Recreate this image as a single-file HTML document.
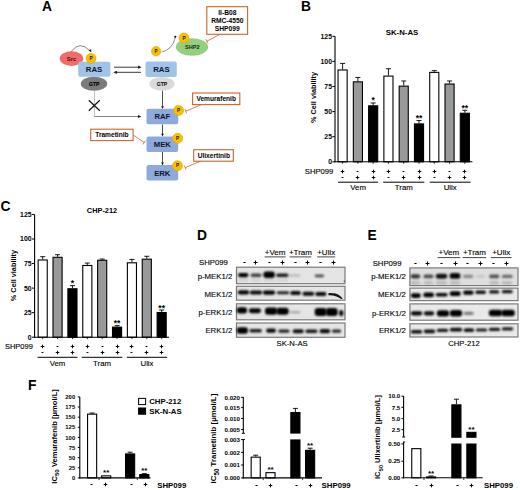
<!DOCTYPE html>
<html><head><meta charset="utf-8"><style>
html,body{margin:0;padding:0;background:#fff;width:520px;height:490px;overflow:hidden}
svg{display:block}
text{font-family:"Liberation Sans", sans-serif}
</style></head><body>
<svg width="520" height="490" viewBox="0 0 520 490" font-family='"Liberation Sans", sans-serif'>
<defs>
<filter id="bl" x="-50%" y="-150%" width="200%" height="400%"><feGaussianBlur stdDeviation="0.85"/></filter>
<filter id="bls" x="-100%" y="-100%" width="300%" height="300%"><feGaussianBlur stdDeviation="0.4"/></filter>
</defs>
<rect width="520" height="490" fill="#fff"/>
<text x="42.00" y="10.90" font-size="13.8" text-anchor="start" font-weight="bold" fill="#000" >A</text>
<ellipse cx="71.5" cy="58.6" rx="11.8" ry="7.3" fill="#ef6c6c"/>
<text x="71.50" y="60.90" font-size="5.8" text-anchor="middle" font-weight="bold" fill="#4a0808" >Src</text>
<path d="M71.2 51.5 Q80 40 90 51" fill="none" stroke="#333" stroke-width="0.6"/>
<path d="M88.6 50.2 L91.2 52.3 L91.2 49.3 Z" fill="#111"/>
<rect x="78.20" y="61.70" width="32.20" height="15.00" fill="#9fc4e8" stroke="none" stroke-width="1" rx="2" />
<text x="94.00" y="71.70" font-size="7.8" text-anchor="middle" font-weight="bold" fill="#0e1626" >RAS</text>
<circle cx="91.0" cy="58.4" r="5.0" fill="#f6c000" stroke="#eaa300" stroke-width="0.6"/>
<text x="91.00" y="60.10" font-size="4.75" text-anchor="middle" font-weight="bold" fill="#1a1a1a" >P</text>
<ellipse cx="94.0" cy="83.8" rx="13.2" ry="7.0" fill="#7b7b7b"/>
<text x="94.20" y="85.50" font-size="5.0" text-anchor="middle" font-weight="bold" fill="#000" stroke="#000" stroke-width="0.15">GTP</text>
<line x1="114.00" y1="67.20" x2="140.00" y2="67.20" stroke="#222" stroke-width="0.9" />
<path d="M141.5 67.2 L138.2 65.6 L138.2 68.8 Z" fill="#111"/>
<line x1="115.00" y1="72.30" x2="141.00" y2="72.30" stroke="#222" stroke-width="0.9" />
<path d="M113.5 72.3 L116.8 70.7 L116.8 73.9 Z" fill="#111"/>
<rect x="145.50" y="61.40" width="31.30" height="15.50" fill="#9fc4e8" stroke="none" stroke-width="1" rx="2" />
<text x="161.40" y="71.80" font-size="7.8" text-anchor="middle" font-weight="bold" fill="#0e1626" >RAS</text>
<ellipse cx="162" cy="83.8" rx="12.6" ry="6.9" fill="#dadada"/>
<text x="162.00" y="85.50" font-size="5.0" text-anchor="middle" font-weight="bold" fill="#111" stroke="#111" stroke-width="0.1">GTP</text>
<ellipse cx="192.0" cy="47.0" rx="16.1" ry="8.7" fill="#93cf7f"/>
<text x="192.30" y="49.40" font-size="5.6" text-anchor="middle" font-weight="bold" fill="#142a0e" >SHP2</text>
<circle cx="156.1" cy="51.2" r="4.7" fill="#f6c000" stroke="#eaa300" stroke-width="0.6"/>
<text x="156.10" y="52.90" font-size="4.465" text-anchor="middle" font-weight="bold" fill="#1a1a1a" >P</text>
<path d="M161.6 52.0 Q172 50 175.2 38" fill="none" stroke="#444" stroke-width="0.6"/>
<circle cx="175.3" cy="36.8" r="1.1" fill="#111"/>
<circle cx="184" cy="38.0" r="5.0" fill="#f6c000" stroke="#eaa300" stroke-width="0.6"/>
<text x="184.00" y="39.70" font-size="4.75" text-anchor="middle" font-weight="bold" fill="#1a1a1a" >P</text>
<rect x="206.80" y="6.70" width="40.80" height="27.60" fill="#fff" stroke="#c8662a" stroke-width="1.1" rx="0" />
<text x="227.30" y="14.80" font-size="6.7" text-anchor="middle" font-weight="bold" fill="#000" >II-B08</text>
<text x="227.30" y="22.70" font-size="6.7" text-anchor="middle" font-weight="bold" fill="#000" >RMC-4550</text>
<text x="227.30" y="31.00" font-size="6.7" text-anchor="middle" font-weight="bold" fill="#000" >SHP099</text>
<line x1="219.50" y1="34.60" x2="206.80" y2="41.20" stroke="#c8662a" stroke-width="0.8" />
<line x1="207.86" y1="43.24" x2="205.74" y2="39.16" stroke="#c8662a" stroke-width="0.8" />
<line x1="94.50" y1="91.00" x2="94.50" y2="116.50" stroke="#aaa" stroke-width="0.7" />
<line x1="94.20" y1="116.50" x2="139.50" y2="116.50" stroke="#555" stroke-width="0.7" />
<path d="M141.3 116.5 L138 115 L138 118 Z" fill="#111"/>
<line x1="88.80" y1="100.30" x2="99.80" y2="110.80" stroke="#111" stroke-width="1.2" />
<line x1="99.80" y1="100.30" x2="88.80" y2="110.80" stroke="#111" stroke-width="1.2" />
<line x1="162.50" y1="90.80" x2="162.50" y2="106.80" stroke="#222" stroke-width="0.8" />
<path d="M162.5 109.0 L161.2 106.2 L163.8 106.2 Z" fill="#111"/>
<line x1="162.50" y1="124.30" x2="162.50" y2="134.40" stroke="#222" stroke-width="0.8" />
<path d="M162.5 136.6 L161.2 133.8 L163.8 133.8 Z" fill="#111"/>
<line x1="162.50" y1="151.80" x2="162.50" y2="163.20" stroke="#222" stroke-width="0.8" />
<path d="M162.5 165.39999999999998 L161.2 162.6 L163.8 162.6 Z" fill="#111"/>
<rect x="146.50" y="108.80" width="31.70" height="15.50" fill="#8eaadc" stroke="none" stroke-width="1" rx="2" />
<text x="162.30" y="119.20" font-size="7.7" text-anchor="middle" font-weight="bold" fill="#0e1626" >RAF</text>
<rect x="146.50" y="136.60" width="31.70" height="15.50" fill="#8eaadc" stroke="none" stroke-width="1" rx="2" />
<text x="162.30" y="147.00" font-size="7.7" text-anchor="middle" font-weight="bold" fill="#0e1626" >MEK</text>
<rect x="146.50" y="165.10" width="31.70" height="15.50" fill="#8eaadc" stroke="none" stroke-width="1" rx="2" />
<text x="162.30" y="175.50" font-size="7.7" text-anchor="middle" font-weight="bold" fill="#0e1626" >ERK</text>
<circle cx="178.6" cy="110.4" r="5.0" fill="#f6c000" stroke="#eaa300" stroke-width="0.6"/>
<text x="178.60" y="112.10" font-size="4.75" text-anchor="middle" font-weight="bold" fill="#1a1a1a" >P</text>
<circle cx="177.6" cy="138.3" r="5.0" fill="#f6c000" stroke="#eaa300" stroke-width="0.6"/>
<text x="177.60" y="140.00" font-size="4.75" text-anchor="middle" font-weight="bold" fill="#1a1a1a" >P</text>
<circle cx="177.5" cy="165.7" r="5.0" fill="#f6c000" stroke="#eaa300" stroke-width="0.6"/>
<text x="177.50" y="167.40" font-size="4.75" text-anchor="middle" font-weight="bold" fill="#1a1a1a" >P</text>
<rect x="192.60" y="93.00" width="47.20" height="11.60" fill="#fff" stroke="#c8662a" stroke-width="1.1" rx="0" />
<text x="216.20" y="101.30" font-size="6.6" text-anchor="middle" font-weight="bold" fill="#000" >Vemurafenib</text>
<line x1="201.00" y1="104.80" x2="185.80" y2="111.20" stroke="#c8662a" stroke-width="0.8" />
<line x1="186.69" y1="113.32" x2="184.91" y2="109.08" stroke="#c8662a" stroke-width="0.8" />
<rect x="90.70" y="129.20" width="42.40" height="11.40" fill="#fff" stroke="#c8662a" stroke-width="1.1" rx="0" />
<text x="111.90" y="137.40" font-size="6.6" text-anchor="middle" font-weight="bold" fill="#000" >Trametinib</text>
<line x1="133.10" y1="134.80" x2="144.20" y2="142.60" stroke="#c8662a" stroke-width="0.8" />
<line x1="145.52" y1="140.72" x2="142.88" y2="144.48" stroke="#c8662a" stroke-width="0.8" />
<rect x="193.70" y="149.70" width="39.60" height="11.50" fill="#fff" stroke="#c8662a" stroke-width="1.1" rx="0" />
<text x="213.80" y="158.30" font-size="6.6" text-anchor="middle" font-weight="bold" fill="#000" >Ulixertinib</text>
<line x1="200.50" y1="161.20" x2="185.20" y2="167.60" stroke="#c8662a" stroke-width="0.8" />
<line x1="186.09" y1="169.72" x2="184.31" y2="165.48" stroke="#c8662a" stroke-width="0.8" />
<text x="301.00" y="10.90" font-size="13.8" text-anchor="start" font-weight="bold" fill="#000" >B</text>
<text x="402.00" y="35.30" font-size="7.8" text-anchor="middle" font-weight="bold" fill="#000" >SK-N-AS</text>
<line x1="335.00" y1="36.30" x2="335.00" y2="162.30" stroke="#000" stroke-width="1.1" />
<line x1="332.40" y1="161.80" x2="335.00" y2="161.80" stroke="#000" stroke-width="1.0" />
<text x="332.00" y="164.28" font-size="6.9" text-anchor="end" font-weight="bold" fill="#000" >0</text>
<line x1="332.40" y1="136.70" x2="335.00" y2="136.70" stroke="#000" stroke-width="1.0" />
<text x="332.00" y="139.18" font-size="6.9" text-anchor="end" font-weight="bold" fill="#000" >25</text>
<line x1="332.40" y1="111.60" x2="335.00" y2="111.60" stroke="#000" stroke-width="1.0" />
<text x="332.00" y="114.08" font-size="6.9" text-anchor="end" font-weight="bold" fill="#000" >50</text>
<line x1="332.40" y1="86.50" x2="335.00" y2="86.50" stroke="#000" stroke-width="1.0" />
<text x="332.00" y="88.98" font-size="6.9" text-anchor="end" font-weight="bold" fill="#000" >75</text>
<line x1="332.40" y1="61.40" x2="335.00" y2="61.40" stroke="#000" stroke-width="1.0" />
<text x="332.00" y="63.88" font-size="6.9" text-anchor="end" font-weight="bold" fill="#000" >100</text>
<line x1="332.40" y1="36.30" x2="335.00" y2="36.30" stroke="#000" stroke-width="1.0" />
<text x="332.00" y="38.78" font-size="6.9" text-anchor="end" font-weight="bold" fill="#000" >125</text>
<line x1="342.60" y1="63.41" x2="342.60" y2="69.43" stroke="#000" stroke-width="0.9" />
<line x1="340.10" y1="63.41" x2="345.10" y2="63.41" stroke="#000" stroke-width="0.9" />
<rect x="338.05" y="69.98" width="9.10" height="91.82" fill="#fff" stroke="#000" stroke-width="1.1" rx="0" />
<line x1="357.88" y1="77.46" x2="357.88" y2="81.28" stroke="#000" stroke-width="0.9" />
<line x1="355.38" y1="77.46" x2="360.38" y2="77.46" stroke="#000" stroke-width="0.9" />
<rect x="353.33" y="81.83" width="9.10" height="79.97" fill="#999" stroke="#000" stroke-width="1.1" rx="0" />
<line x1="373.16" y1="102.97" x2="373.16" y2="105.27" stroke="#000" stroke-width="0.9" />
<line x1="370.66" y1="102.97" x2="375.66" y2="102.97" stroke="#000" stroke-width="0.9" />
<rect x="368.61" y="105.82" width="9.10" height="55.98" fill="#000" stroke="#000" stroke-width="1.1" rx="0" />
<text x="373.16" y="103.47" font-size="8.5" text-anchor="middle" font-weight="bold" fill="#000" >*</text>
<line x1="388.44" y1="68.73" x2="388.44" y2="75.56" stroke="#000" stroke-width="0.9" />
<line x1="385.94" y1="68.73" x2="390.94" y2="68.73" stroke="#000" stroke-width="0.9" />
<rect x="383.89" y="76.11" width="9.10" height="85.69" fill="#fff" stroke="#000" stroke-width="1.1" rx="0" />
<line x1="403.72" y1="80.98" x2="403.72" y2="85.60" stroke="#000" stroke-width="0.9" />
<line x1="401.22" y1="80.98" x2="406.22" y2="80.98" stroke="#000" stroke-width="0.9" />
<rect x="399.17" y="86.15" width="9.10" height="75.65" fill="#999" stroke="#000" stroke-width="1.1" rx="0" />
<line x1="419.00" y1="120.54" x2="419.00" y2="123.35" stroke="#000" stroke-width="0.9" />
<line x1="416.50" y1="120.54" x2="421.50" y2="120.54" stroke="#000" stroke-width="0.9" />
<rect x="414.45" y="123.90" width="9.10" height="37.90" fill="#000" stroke="#000" stroke-width="1.1" rx="0" />
<text x="419.00" y="121.04" font-size="8.5" text-anchor="middle" font-weight="bold" fill="#000" >**</text>
<line x1="434.28" y1="70.64" x2="434.28" y2="71.84" stroke="#000" stroke-width="0.9" />
<line x1="431.78" y1="70.64" x2="436.78" y2="70.64" stroke="#000" stroke-width="0.9" />
<rect x="429.73" y="72.39" width="9.10" height="89.41" fill="#fff" stroke="#000" stroke-width="1.1" rx="0" />
<line x1="449.56" y1="80.98" x2="449.56" y2="83.49" stroke="#000" stroke-width="0.9" />
<line x1="447.06" y1="80.98" x2="452.06" y2="80.98" stroke="#000" stroke-width="0.9" />
<rect x="445.01" y="84.04" width="9.10" height="77.76" fill="#999" stroke="#000" stroke-width="1.1" rx="0" />
<line x1="464.84" y1="110.29" x2="464.84" y2="112.70" stroke="#000" stroke-width="0.9" />
<line x1="462.34" y1="110.29" x2="467.34" y2="110.29" stroke="#000" stroke-width="0.9" />
<rect x="460.29" y="113.25" width="9.10" height="48.55" fill="#000" stroke="#000" stroke-width="1.1" rx="0" />
<text x="464.84" y="110.79" font-size="8.5" text-anchor="middle" font-weight="bold" fill="#000" >**</text>
<line x1="334.50" y1="161.80" x2="472.40" y2="161.80" stroke="#000" stroke-width="1.1" />
<line x1="342.60" y1="161.80" x2="342.60" y2="163.80" stroke="#000" stroke-width="0.8" />
<line x1="357.88" y1="161.80" x2="357.88" y2="163.80" stroke="#000" stroke-width="0.8" />
<line x1="373.16" y1="161.80" x2="373.16" y2="163.80" stroke="#000" stroke-width="0.8" />
<line x1="388.44" y1="161.80" x2="388.44" y2="163.80" stroke="#000" stroke-width="0.8" />
<line x1="403.72" y1="161.80" x2="403.72" y2="163.80" stroke="#000" stroke-width="0.8" />
<line x1="419.00" y1="161.80" x2="419.00" y2="163.80" stroke="#000" stroke-width="0.8" />
<line x1="434.28" y1="161.80" x2="434.28" y2="163.80" stroke="#000" stroke-width="0.8" />
<line x1="449.56" y1="161.80" x2="449.56" y2="163.80" stroke="#000" stroke-width="0.8" />
<line x1="464.84" y1="161.80" x2="464.84" y2="163.80" stroke="#000" stroke-width="0.8" />
<text transform="translate(315.7,97.5) rotate(-90)" font-size="7.3" font-weight="bold" text-anchor="middle">% Cell viability</text>
<text x="333.40" y="174.30" font-size="7.7" text-anchor="end" stroke="#000" stroke-width="0.12" fill="#000" >SHP099</text>
<line x1="340.70" y1="171.50" x2="344.30" y2="171.50" stroke="#000" stroke-width="0.95" />
<line x1="342.50" y1="169.70" x2="342.50" y2="173.30" stroke="#000" stroke-width="0.95" />
<line x1="341.55" y1="177.50" x2="343.45" y2="177.50" stroke="#000" stroke-width="0.95" />
<line x1="356.55" y1="171.50" x2="358.45" y2="171.50" stroke="#000" stroke-width="0.95" />
<line x1="355.70" y1="177.50" x2="359.30" y2="177.50" stroke="#000" stroke-width="0.95" />
<line x1="357.50" y1="175.70" x2="357.50" y2="179.30" stroke="#000" stroke-width="0.95" />
<line x1="371.70" y1="171.50" x2="375.30" y2="171.50" stroke="#000" stroke-width="0.95" />
<line x1="373.50" y1="169.70" x2="373.50" y2="173.30" stroke="#000" stroke-width="0.95" />
<line x1="371.70" y1="177.50" x2="375.30" y2="177.50" stroke="#000" stroke-width="0.95" />
<line x1="373.50" y1="175.70" x2="373.50" y2="179.30" stroke="#000" stroke-width="0.95" />
<line x1="386.70" y1="171.50" x2="390.30" y2="171.50" stroke="#000" stroke-width="0.95" />
<line x1="388.50" y1="169.70" x2="388.50" y2="173.30" stroke="#000" stroke-width="0.95" />
<line x1="387.55" y1="177.50" x2="389.45" y2="177.50" stroke="#000" stroke-width="0.95" />
<line x1="402.55" y1="171.50" x2="404.45" y2="171.50" stroke="#000" stroke-width="0.95" />
<line x1="401.70" y1="177.50" x2="405.30" y2="177.50" stroke="#000" stroke-width="0.95" />
<line x1="403.50" y1="175.70" x2="403.50" y2="179.30" stroke="#000" stroke-width="0.95" />
<line x1="417.70" y1="171.50" x2="421.30" y2="171.50" stroke="#000" stroke-width="0.95" />
<line x1="419.50" y1="169.70" x2="419.50" y2="173.30" stroke="#000" stroke-width="0.95" />
<line x1="417.70" y1="177.50" x2="421.30" y2="177.50" stroke="#000" stroke-width="0.95" />
<line x1="419.50" y1="175.70" x2="419.50" y2="179.30" stroke="#000" stroke-width="0.95" />
<line x1="432.70" y1="171.50" x2="436.30" y2="171.50" stroke="#000" stroke-width="0.95" />
<line x1="434.50" y1="169.70" x2="434.50" y2="173.30" stroke="#000" stroke-width="0.95" />
<line x1="433.55" y1="177.50" x2="435.45" y2="177.50" stroke="#000" stroke-width="0.95" />
<line x1="448.55" y1="171.50" x2="450.45" y2="171.50" stroke="#000" stroke-width="0.95" />
<line x1="447.70" y1="177.50" x2="451.30" y2="177.50" stroke="#000" stroke-width="0.95" />
<line x1="449.50" y1="175.70" x2="449.50" y2="179.30" stroke="#000" stroke-width="0.95" />
<line x1="462.70" y1="171.50" x2="466.30" y2="171.50" stroke="#000" stroke-width="0.95" />
<line x1="464.50" y1="169.70" x2="464.50" y2="173.30" stroke="#000" stroke-width="0.95" />
<line x1="462.70" y1="177.50" x2="466.30" y2="177.50" stroke="#000" stroke-width="0.95" />
<line x1="464.50" y1="175.70" x2="464.50" y2="179.30" stroke="#000" stroke-width="0.95" />
<line x1="338.00" y1="182.20" x2="378.20" y2="182.20" stroke="#000" stroke-width="1.0" />
<text x="358.10" y="190.20" font-size="7.8" text-anchor="middle" stroke="#000" stroke-width="0.12" fill="#000" >Vem</text>
<line x1="383.20" y1="182.20" x2="424.40" y2="182.20" stroke="#000" stroke-width="1.0" />
<text x="403.80" y="190.20" font-size="7.8" text-anchor="middle" stroke="#000" stroke-width="0.12" fill="#000" >Tram</text>
<line x1="429.80" y1="182.20" x2="470.60" y2="182.20" stroke="#000" stroke-width="1.0" />
<text x="450.20" y="190.20" font-size="7.8" text-anchor="middle" stroke="#000" stroke-width="0.12" fill="#000" >Ulix</text>
<text x="0.40" y="211.00" font-size="13.8" text-anchor="start" font-weight="bold" fill="#000" >C</text>
<text x="102.00" y="213.10" font-size="7.4" text-anchor="middle" font-weight="bold" fill="#000" >CHP-212</text>
<line x1="34.60" y1="214.45" x2="34.60" y2="337.70" stroke="#000" stroke-width="1.1" />
<line x1="32.00" y1="337.20" x2="34.60" y2="337.20" stroke="#000" stroke-width="1.0" />
<text x="31.60" y="339.68" font-size="6.9" text-anchor="end" font-weight="bold" fill="#000" >0</text>
<line x1="32.00" y1="312.65" x2="34.60" y2="312.65" stroke="#000" stroke-width="1.0" />
<text x="31.60" y="315.13" font-size="6.9" text-anchor="end" font-weight="bold" fill="#000" >25</text>
<line x1="32.00" y1="288.10" x2="34.60" y2="288.10" stroke="#000" stroke-width="1.0" />
<text x="31.60" y="290.58" font-size="6.9" text-anchor="end" font-weight="bold" fill="#000" >50</text>
<line x1="32.00" y1="263.55" x2="34.60" y2="263.55" stroke="#000" stroke-width="1.0" />
<text x="31.60" y="266.03" font-size="6.9" text-anchor="end" font-weight="bold" fill="#000" >75</text>
<line x1="32.00" y1="239.00" x2="34.60" y2="239.00" stroke="#000" stroke-width="1.0" />
<text x="31.60" y="241.48" font-size="6.9" text-anchor="end" font-weight="bold" fill="#000" >100</text>
<line x1="32.00" y1="214.45" x2="34.60" y2="214.45" stroke="#000" stroke-width="1.0" />
<text x="31.60" y="216.93" font-size="6.9" text-anchor="end" font-weight="bold" fill="#000" >125</text>
<line x1="42.70" y1="256.68" x2="42.70" y2="259.43" stroke="#000" stroke-width="0.9" />
<line x1="40.20" y1="256.68" x2="45.20" y2="256.68" stroke="#000" stroke-width="0.9" />
<rect x="38.15" y="259.98" width="9.10" height="77.22" fill="#fff" stroke="#000" stroke-width="1.1" rx="0" />
<line x1="57.57" y1="254.71" x2="57.57" y2="256.77" stroke="#000" stroke-width="0.9" />
<line x1="55.07" y1="254.71" x2="60.07" y2="254.71" stroke="#000" stroke-width="0.9" />
<rect x="53.02" y="257.32" width="9.10" height="79.88" fill="#999" stroke="#000" stroke-width="1.1" rx="0" />
<line x1="72.44" y1="285.64" x2="72.44" y2="288.20" stroke="#000" stroke-width="0.9" />
<line x1="69.94" y1="285.64" x2="74.94" y2="285.64" stroke="#000" stroke-width="0.9" />
<rect x="67.89" y="288.75" width="9.10" height="48.45" fill="#000" stroke="#000" stroke-width="1.1" rx="0" />
<text x="72.44" y="286.14" font-size="8.5" text-anchor="middle" font-weight="bold" fill="#000" >*</text>
<line x1="87.31" y1="263.06" x2="87.31" y2="264.92" stroke="#000" stroke-width="0.9" />
<line x1="84.81" y1="263.06" x2="89.81" y2="263.06" stroke="#000" stroke-width="0.9" />
<rect x="82.76" y="265.47" width="9.10" height="71.73" fill="#fff" stroke="#000" stroke-width="1.1" rx="0" />
<line x1="102.18" y1="259.03" x2="102.18" y2="259.72" stroke="#000" stroke-width="0.9" />
<line x1="99.68" y1="259.03" x2="104.68" y2="259.03" stroke="#000" stroke-width="0.9" />
<rect x="97.63" y="260.27" width="9.10" height="76.93" fill="#999" stroke="#000" stroke-width="1.1" rx="0" />
<line x1="117.05" y1="325.61" x2="117.05" y2="326.59" stroke="#000" stroke-width="0.9" />
<line x1="114.55" y1="325.61" x2="119.55" y2="325.61" stroke="#000" stroke-width="0.9" />
<rect x="112.50" y="327.14" width="9.10" height="10.06" fill="#000" stroke="#000" stroke-width="1.1" rx="0" />
<text x="117.05" y="326.11" font-size="8.5" text-anchor="middle" font-weight="bold" fill="#000" >**</text>
<line x1="131.92" y1="259.43" x2="131.92" y2="262.27" stroke="#000" stroke-width="0.9" />
<line x1="129.42" y1="259.43" x2="134.42" y2="259.43" stroke="#000" stroke-width="0.9" />
<rect x="127.37" y="262.82" width="9.10" height="74.38" fill="#fff" stroke="#000" stroke-width="1.1" rx="0" />
<line x1="146.79" y1="256.28" x2="146.79" y2="258.64" stroke="#000" stroke-width="0.9" />
<line x1="144.29" y1="256.28" x2="149.29" y2="256.28" stroke="#000" stroke-width="0.9" />
<rect x="142.24" y="259.19" width="9.10" height="78.01" fill="#999" stroke="#000" stroke-width="1.1" rx="0" />
<line x1="161.66" y1="310.00" x2="161.66" y2="311.96" stroke="#000" stroke-width="0.9" />
<line x1="159.16" y1="310.00" x2="164.16" y2="310.00" stroke="#000" stroke-width="0.9" />
<rect x="157.11" y="312.51" width="9.10" height="24.69" fill="#000" stroke="#000" stroke-width="1.1" rx="0" />
<text x="161.66" y="310.50" font-size="8.5" text-anchor="middle" font-weight="bold" fill="#000" >**</text>
<line x1="34.10" y1="337.20" x2="169.10" y2="337.20" stroke="#000" stroke-width="1.1" />
<line x1="42.70" y1="337.20" x2="42.70" y2="339.20" stroke="#000" stroke-width="0.8" />
<line x1="57.57" y1="337.20" x2="57.57" y2="339.20" stroke="#000" stroke-width="0.8" />
<line x1="72.44" y1="337.20" x2="72.44" y2="339.20" stroke="#000" stroke-width="0.8" />
<line x1="87.31" y1="337.20" x2="87.31" y2="339.20" stroke="#000" stroke-width="0.8" />
<line x1="102.18" y1="337.20" x2="102.18" y2="339.20" stroke="#000" stroke-width="0.8" />
<line x1="117.05" y1="337.20" x2="117.05" y2="339.20" stroke="#000" stroke-width="0.8" />
<line x1="131.92" y1="337.20" x2="131.92" y2="339.20" stroke="#000" stroke-width="0.8" />
<line x1="146.79" y1="337.20" x2="146.79" y2="339.20" stroke="#000" stroke-width="0.8" />
<line x1="161.66" y1="337.20" x2="161.66" y2="339.20" stroke="#000" stroke-width="0.8" />
<text transform="translate(16.2,275.6) rotate(-90)" font-size="7.3" font-weight="bold" text-anchor="middle">% Cell viability</text>
<text x="32.90" y="348.90" font-size="7.5" text-anchor="end" stroke="#000" stroke-width="0.12" fill="#000" >SHP099</text>
<line x1="40.70" y1="346.50" x2="44.30" y2="346.50" stroke="#000" stroke-width="0.95" />
<line x1="42.50" y1="344.70" x2="42.50" y2="348.30" stroke="#000" stroke-width="0.95" />
<line x1="41.55" y1="352.50" x2="43.45" y2="352.50" stroke="#000" stroke-width="0.95" />
<line x1="56.55" y1="346.50" x2="58.45" y2="346.50" stroke="#000" stroke-width="0.95" />
<line x1="55.70" y1="352.50" x2="59.30" y2="352.50" stroke="#000" stroke-width="0.95" />
<line x1="57.50" y1="350.70" x2="57.50" y2="354.30" stroke="#000" stroke-width="0.95" />
<line x1="70.70" y1="346.50" x2="74.30" y2="346.50" stroke="#000" stroke-width="0.95" />
<line x1="72.50" y1="344.70" x2="72.50" y2="348.30" stroke="#000" stroke-width="0.95" />
<line x1="70.70" y1="352.50" x2="74.30" y2="352.50" stroke="#000" stroke-width="0.95" />
<line x1="72.50" y1="350.70" x2="72.50" y2="354.30" stroke="#000" stroke-width="0.95" />
<line x1="85.70" y1="346.50" x2="89.30" y2="346.50" stroke="#000" stroke-width="0.95" />
<line x1="87.50" y1="344.70" x2="87.50" y2="348.30" stroke="#000" stroke-width="0.95" />
<line x1="86.55" y1="352.50" x2="88.45" y2="352.50" stroke="#000" stroke-width="0.95" />
<line x1="101.55" y1="346.50" x2="103.45" y2="346.50" stroke="#000" stroke-width="0.95" />
<line x1="100.70" y1="352.50" x2="104.30" y2="352.50" stroke="#000" stroke-width="0.95" />
<line x1="102.50" y1="350.70" x2="102.50" y2="354.30" stroke="#000" stroke-width="0.95" />
<line x1="115.70" y1="346.50" x2="119.30" y2="346.50" stroke="#000" stroke-width="0.95" />
<line x1="117.50" y1="344.70" x2="117.50" y2="348.30" stroke="#000" stroke-width="0.95" />
<line x1="115.70" y1="352.50" x2="119.30" y2="352.50" stroke="#000" stroke-width="0.95" />
<line x1="117.50" y1="350.70" x2="117.50" y2="354.30" stroke="#000" stroke-width="0.95" />
<line x1="129.70" y1="346.50" x2="133.30" y2="346.50" stroke="#000" stroke-width="0.95" />
<line x1="131.50" y1="344.70" x2="131.50" y2="348.30" stroke="#000" stroke-width="0.95" />
<line x1="130.55" y1="352.50" x2="132.45" y2="352.50" stroke="#000" stroke-width="0.95" />
<line x1="145.55" y1="346.50" x2="147.45" y2="346.50" stroke="#000" stroke-width="0.95" />
<line x1="144.70" y1="352.50" x2="148.30" y2="352.50" stroke="#000" stroke-width="0.95" />
<line x1="146.50" y1="350.70" x2="146.50" y2="354.30" stroke="#000" stroke-width="0.95" />
<line x1="159.70" y1="346.50" x2="163.30" y2="346.50" stroke="#000" stroke-width="0.95" />
<line x1="161.50" y1="344.70" x2="161.50" y2="348.30" stroke="#000" stroke-width="0.95" />
<line x1="159.70" y1="352.50" x2="163.30" y2="352.50" stroke="#000" stroke-width="0.95" />
<line x1="161.50" y1="350.70" x2="161.50" y2="354.30" stroke="#000" stroke-width="0.95" />
<line x1="37.60" y1="357.30" x2="77.50" y2="357.30" stroke="#000" stroke-width="1.0" />
<text x="57.55" y="365.80" font-size="7.8" text-anchor="middle" stroke="#000" stroke-width="0.12" fill="#000" >Vem</text>
<line x1="81.80" y1="357.30" x2="122.30" y2="357.30" stroke="#000" stroke-width="1.0" />
<text x="102.05" y="365.80" font-size="7.8" text-anchor="middle" stroke="#000" stroke-width="0.12" fill="#000" >Tram</text>
<line x1="126.80" y1="357.30" x2="167.20" y2="357.30" stroke="#000" stroke-width="1.0" />
<text x="147.00" y="365.80" font-size="7.8" text-anchor="middle" stroke="#000" stroke-width="0.12" fill="#000" >Ulix</text>
<text x="196.90" y="239.80" font-size="13.8" text-anchor="start" font-weight="bold" fill="#000" >D</text>
<rect x="236.50" y="267.20" width="108.50" height="16.50" fill="#e5e5e5" stroke="#7a7a7a" stroke-width="1.2" rx="0" />
<rect x="236.50" y="286.30" width="108.50" height="13.90" fill="#e5e5e5" stroke="#7a7a7a" stroke-width="1.2" rx="0" />
<rect x="236.50" y="303.80" width="108.50" height="16.00" fill="#e5e5e5" stroke="#7a7a7a" stroke-width="1.2" rx="0" />
<rect x="236.50" y="323.00" width="108.50" height="14.30" fill="#e5e5e5" stroke="#7a7a7a" stroke-width="1.2" rx="0" />
<text x="232.30" y="279.00" font-size="7.8" text-anchor="end" stroke="#000" stroke-width="0.12" fill="#000" >p-MEK1/2</text>
<text x="232.30" y="297.00" font-size="7.8" text-anchor="end" stroke="#000" stroke-width="0.12" fill="#000" >MEK1/2</text>
<text x="232.30" y="315.10" font-size="7.8" text-anchor="end" stroke="#000" stroke-width="0.12" fill="#000" >p-ERK1/2</text>
<text x="232.30" y="332.50" font-size="7.8" text-anchor="end" stroke="#000" stroke-width="0.12" fill="#000" >ERK1/2</text>
<text x="227.90" y="265.00" font-size="7.75" text-anchor="end" stroke="#000" stroke-width="0.12" fill="#000" >SHP099</text>
<line x1="243.40" y1="262.50" x2="245.60" y2="262.50" stroke="#000" stroke-width="1.0" />
<line x1="253.50" y1="262.50" x2="257.50" y2="262.50" stroke="#000" stroke-width="1.0" />
<line x1="255.50" y1="260.50" x2="255.50" y2="264.50" stroke="#000" stroke-width="1.0" />
<line x1="268.40" y1="262.50" x2="270.60" y2="262.50" stroke="#000" stroke-width="1.0" />
<line x1="280.50" y1="262.50" x2="284.50" y2="262.50" stroke="#000" stroke-width="1.0" />
<line x1="282.50" y1="260.50" x2="282.50" y2="264.50" stroke="#000" stroke-width="1.0" />
<line x1="294.40" y1="262.50" x2="296.60" y2="262.50" stroke="#000" stroke-width="1.0" />
<line x1="305.50" y1="262.50" x2="309.50" y2="262.50" stroke="#000" stroke-width="1.0" />
<line x1="307.50" y1="260.50" x2="307.50" y2="264.50" stroke="#000" stroke-width="1.0" />
<line x1="319.40" y1="262.50" x2="321.60" y2="262.50" stroke="#000" stroke-width="1.0" />
<line x1="331.50" y1="262.50" x2="335.50" y2="262.50" stroke="#000" stroke-width="1.0" />
<line x1="333.50" y1="260.50" x2="333.50" y2="264.50" stroke="#000" stroke-width="1.0" />
<text x="275.10" y="255.00" font-size="8.0" text-anchor="middle" stroke="#000" stroke-width="0.12" fill="#000" >+Vem</text>
<line x1="264.60" y1="256.90" x2="285.60" y2="256.90" stroke="#333" stroke-width="0.9" />
<text x="300.40" y="255.00" font-size="8.0" text-anchor="middle" stroke="#000" stroke-width="0.12" fill="#000" >+Tram</text>
<line x1="289.50" y1="256.90" x2="311.30" y2="256.90" stroke="#333" stroke-width="0.9" />
<text x="326.20" y="255.00" font-size="8.0" text-anchor="middle" stroke="#000" stroke-width="0.12" fill="#000" >+Ulix</text>
<line x1="317.20" y1="256.90" x2="335.20" y2="256.90" stroke="#333" stroke-width="0.9" />
<text x="292.10" y="346.30" font-size="7.7" text-anchor="middle" stroke="#000" stroke-width="0.12" fill="#000" >SK-N-AS</text>
<rect x="238.0" y="272.9" width="10.5" height="4.3" rx="2.2" fill="#000" fill-opacity="0.9974999999999999" filter="url(#bl)"/>
<rect x="250.6" y="273.6" width="10.9" height="3.3" rx="1.7" fill="#000" fill-opacity="0.735" filter="url(#bl)"/>
<rect x="263.3" y="271.6" width="11.6" height="6.3" rx="3.0" fill="#000" fill-opacity="1.0" filter="url(#bl)"/>
<rect x="276.1" y="273.4" width="12.4" height="3.6" rx="1.8" fill="#000" fill-opacity="0.8925" filter="url(#bl)"/>
<rect x="289.3" y="274.2" width="10.9" height="2.5" rx="1.2" fill="#000" fill-opacity="0.189" filter="url(#bl)"/>
<rect x="314.7" y="274.4" width="9.4" height="2.9" rx="1.5" fill="#000" fill-opacity="0.6825000000000001" filter="url(#bl)"/>
<rect x="238.3" y="278.6" width="9.9" height="3.2" rx="1.6" fill="#000" fill-opacity="0.084" filter="url(#bl)"/>
<rect x="250.8" y="278.6" width="10.4" height="3.2" rx="1.6" fill="#000" fill-opacity="0.084" filter="url(#bl)"/>
<rect x="263.8" y="278.6" width="10.9" height="3.2" rx="1.6" fill="#000" fill-opacity="0.084" filter="url(#bl)"/>
<rect x="276.3" y="278.6" width="11.9" height="3.2" rx="1.6" fill="#000" fill-opacity="0.084" filter="url(#bl)"/>
<rect x="343.6" y="280.6" width="1.2" height="1.2" rx="0.6" fill="#000" fill-opacity="0.7" filter="url(#bls)"/>
<rect x="237.8" y="290.3" width="11.4" height="4.3" rx="2.2" fill="#000" fill-opacity="0.9974999999999999" filter="url(#bl)"/>
<rect x="249.8" y="290.5" width="12.4" height="3.9" rx="2.0" fill="#000" fill-opacity="0.9660000000000001" filter="url(#bl)"/>
<rect x="262.8" y="290.4" width="12.4" height="4.3" rx="2.2" fill="#000" fill-opacity="0.9974999999999999" filter="url(#bl)"/>
<rect x="276.8" y="291.2" width="12.4" height="3.1" rx="1.6" fill="#000" fill-opacity="0.861" filter="url(#bl)"/>
<rect x="290.2" y="291.1" width="10.7" height="3.9" rx="2.0" fill="#000" fill-opacity="0.9660000000000001" filter="url(#bl)"/>
<rect x="302.5" y="291.8" width="11.7" height="3.9" rx="2.0" fill="#000" fill-opacity="0.9660000000000001" filter="url(#bl)"/>
<rect x="315.2" y="291.9" width="11.3" height="4.1" rx="2.1" fill="#000" fill-opacity="0.9660000000000001" filter="url(#bl)"/>
<path d="M328.5 293.0 Q336 292.6 339 295.0 Q341 296.8 342.8 298.6 L341.4 299.0 Q337 296.6 333 295.6 Q330.5 295.3 328.5 295.4 Z" fill="#000" fill-opacity="0.9" filter="url(#bls)"/>
<rect x="236.7" y="307.3" width="10.4" height="6.3" rx="3.0" fill="#000" fill-opacity="1.0" filter="url(#bl)"/>
<rect x="248.8" y="308.3" width="12.2" height="4.9" rx="2.5" fill="#000" fill-opacity="0.9765000000000001" filter="url(#bl)"/>
<rect x="265.0" y="307.6" width="12.2" height="7.1" rx="3.0" fill="#000" fill-opacity="1.0" filter="url(#bl)"/>
<rect x="276.3" y="307.8" width="12.4" height="6.9" rx="3.0" fill="#000" fill-opacity="1.0" filter="url(#bl)"/>
<rect x="289.8" y="311.2" width="10.4" height="2.0" rx="1.0" fill="#000" fill-opacity="0.315" filter="url(#bl)"/>
<rect x="314.7" y="308.0" width="12.0" height="8.1" rx="3.0" fill="#000" fill-opacity="1.0" filter="url(#bl)"/>
<rect x="325.8" y="308.0" width="11.9" height="8.1" rx="3.0" fill="#000" fill-opacity="1.0" filter="url(#bl)"/>
<rect x="339.0" y="310.0" width="4.5" height="6.3" rx="3.0" fill="#000" fill-opacity="0.9450000000000001" filter="url(#bl)"/>
<rect x="236.7" y="327.3" width="11.3" height="6.5" rx="3.0" fill="#000" fill-opacity="1.0" filter="url(#bl)"/>
<rect x="249.4" y="329.0" width="12.5" height="3.6" rx="1.8" fill="#000" fill-opacity="0.8925" filter="url(#bl)"/>
<rect x="266.1" y="328.4" width="9.9" height="4.4" rx="2.2" fill="#000" fill-opacity="0.9660000000000001" filter="url(#bl)"/>
<rect x="278.2" y="329.4" width="11.4" height="3.3" rx="1.7" fill="#000" fill-opacity="0.861" filter="url(#bl)"/>
<rect x="292.7" y="329.2" width="11.0" height="4.1" rx="2.1" fill="#000" fill-opacity="0.9450000000000001" filter="url(#bl)"/>
<rect x="305.4" y="329.4" width="12.1" height="3.5" rx="1.8" fill="#000" fill-opacity="0.9135" filter="url(#bl)"/>
<rect x="319.6" y="329.0" width="10.6" height="4.3" rx="2.2" fill="#000" fill-opacity="0.9450000000000001" filter="url(#bl)"/>
<rect x="331.8" y="329.4" width="9.4" height="3.3" rx="1.7" fill="#000" fill-opacity="0.8400000000000001" filter="url(#bl)"/>
<text x="367.40" y="239.70" font-size="13.8" text-anchor="start" font-weight="bold" fill="#000" >E</text>
<rect x="409.90" y="267.90" width="108.10" height="17.70" fill="#dedede" stroke="#7a7a7a" stroke-width="1.2" rx="0" />
<rect x="409.90" y="288.10" width="108.10" height="12.50" fill="#e9e9e9" stroke="#7a7a7a" stroke-width="1.2" rx="0" />
<rect x="409.90" y="303.90" width="108.10" height="16.30" fill="#e9e9e9" stroke="#7a7a7a" stroke-width="1.2" rx="0" />
<rect x="409.90" y="323.80" width="108.10" height="13.20" fill="#e9e9e9" stroke="#7a7a7a" stroke-width="1.2" rx="0" />
<text x="405.80" y="279.30" font-size="7.8" text-anchor="end" stroke="#000" stroke-width="0.12" fill="#000" >p-MEK1/2</text>
<text x="405.80" y="297.00" font-size="7.8" text-anchor="end" stroke="#000" stroke-width="0.12" fill="#000" >MEK1/2</text>
<text x="405.80" y="315.80" font-size="7.8" text-anchor="end" stroke="#000" stroke-width="0.12" fill="#000" >p-ERK1/2</text>
<text x="405.80" y="332.80" font-size="7.8" text-anchor="end" stroke="#000" stroke-width="0.12" fill="#000" >ERK1/2</text>
<text x="401.50" y="265.60" font-size="7.75" text-anchor="end" stroke="#000" stroke-width="0.12" fill="#000" >SHP099</text>
<line x1="414.40" y1="263.50" x2="416.60" y2="263.50" stroke="#000" stroke-width="1.0" />
<line x1="425.50" y1="263.50" x2="429.50" y2="263.50" stroke="#000" stroke-width="1.0" />
<line x1="427.50" y1="261.50" x2="427.50" y2="265.50" stroke="#000" stroke-width="1.0" />
<line x1="440.40" y1="263.50" x2="442.60" y2="263.50" stroke="#000" stroke-width="1.0" />
<line x1="453.50" y1="263.50" x2="457.50" y2="263.50" stroke="#000" stroke-width="1.0" />
<line x1="455.50" y1="261.50" x2="455.50" y2="265.50" stroke="#000" stroke-width="1.0" />
<line x1="466.40" y1="263.50" x2="468.60" y2="263.50" stroke="#000" stroke-width="1.0" />
<line x1="478.50" y1="263.50" x2="482.50" y2="263.50" stroke="#000" stroke-width="1.0" />
<line x1="480.50" y1="261.50" x2="480.50" y2="265.50" stroke="#000" stroke-width="1.0" />
<line x1="492.40" y1="263.50" x2="494.60" y2="263.50" stroke="#000" stroke-width="1.0" />
<line x1="504.50" y1="263.50" x2="508.50" y2="263.50" stroke="#000" stroke-width="1.0" />
<line x1="506.50" y1="261.50" x2="506.50" y2="265.50" stroke="#000" stroke-width="1.0" />
<text x="448.90" y="255.00" font-size="8.0" text-anchor="middle" stroke="#000" stroke-width="0.12" fill="#000" >+Vem</text>
<line x1="437.50" y1="257.60" x2="460.30" y2="257.60" stroke="#333" stroke-width="0.9" />
<text x="474.40" y="255.00" font-size="8.0" text-anchor="middle" stroke="#000" stroke-width="0.12" fill="#000" >+Tram</text>
<line x1="462.60" y1="257.60" x2="486.20" y2="257.60" stroke="#333" stroke-width="0.9" />
<text x="501.20" y="255.00" font-size="8.0" text-anchor="middle" stroke="#000" stroke-width="0.12" fill="#000" >+Ulix</text>
<line x1="490.80" y1="257.60" x2="511.60" y2="257.60" stroke="#333" stroke-width="0.9" />
<text x="464.00" y="346.30" font-size="7.7" text-anchor="middle" stroke="#000" stroke-width="0.12" fill="#000" >CHP-212</text>
<rect x="410.6" y="274.2" width="9.6" height="4.2" rx="2.1" fill="#000" fill-opacity="0.756" filter="url(#bl)"/>
<rect x="423.5" y="274.6" width="10.0" height="3.7" rx="1.9" fill="#000" fill-opacity="0.651" filter="url(#bl)"/>
<rect x="435.7" y="273.8" width="11.6" height="4.9" rx="2.5" fill="#000" fill-opacity="0.924" filter="url(#bl)"/>
<rect x="449.6" y="273.1" width="10.8" height="5.6" rx="2.8" fill="#000" fill-opacity="0.9765000000000001" filter="url(#bl)"/>
<rect x="463.1" y="274.8" width="10.1" height="3.1" rx="1.6" fill="#000" fill-opacity="0.399" filter="url(#bl)"/>
<rect x="476.1" y="275.2" width="8.6" height="2.4" rx="1.2" fill="#000" fill-opacity="0.1365" filter="url(#bl)"/>
<rect x="489.1" y="274.6" width="10.2" height="3.6" rx="1.8" fill="#000" fill-opacity="0.63" filter="url(#bl)"/>
<rect x="501.8" y="274.8" width="10.9" height="3.2" rx="1.6" fill="#000" fill-opacity="0.525" filter="url(#bl)"/>
<rect x="410.8" y="281.2" width="9.4" height="3.3" rx="1.7" fill="#000" fill-opacity="0.17850000000000002" filter="url(#bl)"/>
<rect x="423.8" y="281.2" width="9.4" height="3.3" rx="1.7" fill="#000" fill-opacity="0.17850000000000002" filter="url(#bl)"/>
<rect x="435.8" y="281.2" width="11.4" height="3.3" rx="1.7" fill="#000" fill-opacity="0.17850000000000002" filter="url(#bl)"/>
<rect x="449.8" y="281.2" width="10.4" height="3.3" rx="1.7" fill="#000" fill-opacity="0.17850000000000002" filter="url(#bl)"/>
<rect x="489.3" y="281.2" width="9.9" height="3.3" rx="1.7" fill="#000" fill-opacity="0.17850000000000002" filter="url(#bl)"/>
<rect x="501.8" y="281.2" width="10.4" height="3.3" rx="1.7" fill="#000" fill-opacity="0.17850000000000002" filter="url(#bl)"/>
<rect x="410.8" y="293.2" width="10.0" height="4.7" rx="2.4" fill="#000" fill-opacity="1.0" filter="url(#bl)"/>
<rect x="423.3" y="292.6" width="10.7" height="4.7" rx="2.4" fill="#000" fill-opacity="1.0" filter="url(#bl)"/>
<rect x="435.7" y="293.0" width="12.0" height="3.6" rx="1.8" fill="#000" fill-opacity="0.9765000000000001" filter="url(#bl)"/>
<rect x="449.6" y="291.3" width="11.2" height="4.7" rx="2.4" fill="#000" fill-opacity="1.0" filter="url(#bl)"/>
<rect x="463.1" y="290.6" width="10.5" height="4.2" rx="2.1" fill="#000" fill-opacity="1.0" filter="url(#bl)"/>
<rect x="475.3" y="290.6" width="10.7" height="3.3" rx="1.7" fill="#000" fill-opacity="0.9450000000000001" filter="url(#bl)"/>
<rect x="489.1" y="290.3" width="10.1" height="3.3" rx="1.7" fill="#000" fill-opacity="0.9450000000000001" filter="url(#bl)"/>
<rect x="501.8" y="290.1" width="10.9" height="3.1" rx="1.6" fill="#000" fill-opacity="0.924" filter="url(#bl)"/>
<rect x="410.8" y="311.2" width="11.4" height="4.3" rx="2.2" fill="#000" fill-opacity="0.9765000000000001" filter="url(#bl)"/>
<rect x="423.8" y="311.3" width="10.4" height="4.1" rx="2.1" fill="#000" fill-opacity="0.9450000000000001" filter="url(#bl)"/>
<rect x="436.8" y="310.2" width="12.4" height="6.2" rx="3.0" fill="#000" fill-opacity="1.0" filter="url(#bl)"/>
<rect x="449.8" y="310.1" width="12.4" height="6.4" rx="3.0" fill="#000" fill-opacity="1.0" filter="url(#bl)"/>
<rect x="463.8" y="311.8" width="9.8" height="3.1" rx="1.6" fill="#000" fill-opacity="0.47250000000000003" filter="url(#bl)"/>
<rect x="488.8" y="309.8" width="13.4" height="6.4" rx="3.0" fill="#000" fill-opacity="1.0" filter="url(#bl)"/>
<rect x="501.3" y="309.8" width="13.5" height="6.4" rx="3.0" fill="#000" fill-opacity="1.0" filter="url(#bl)"/>
<rect x="410.8" y="329.9" width="11.4" height="3.7" rx="1.9" fill="#000" fill-opacity="0.9450000000000001" filter="url(#bl)"/>
<rect x="423.8" y="329.5" width="11.4" height="3.7" rx="1.9" fill="#000" fill-opacity="0.9450000000000001" filter="url(#bl)"/>
<rect x="436.8" y="328.8" width="11.4" height="3.3" rx="1.7" fill="#000" fill-opacity="0.924" filter="url(#bl)"/>
<rect x="449.8" y="327.7" width="12.4" height="3.9" rx="2.0" fill="#000" fill-opacity="0.9450000000000001" filter="url(#bl)"/>
<rect x="463.8" y="328.3" width="10.3" height="3.7" rx="1.9" fill="#000" fill-opacity="0.924" filter="url(#bl)"/>
<rect x="475.8" y="328.4" width="11.4" height="3.1" rx="1.6" fill="#000" fill-opacity="0.8925" filter="url(#bl)"/>
<rect x="488.8" y="327.8" width="11.4" height="3.3" rx="1.7" fill="#000" fill-opacity="0.9135" filter="url(#bl)"/>
<rect x="501.8" y="327.3" width="11.4" height="3.3" rx="1.7" fill="#000" fill-opacity="0.8925" filter="url(#bl)"/>
<text x="28.00" y="389.60" font-size="13.8" text-anchor="start" font-weight="bold" fill="#000" >F</text>
<line x1="79.80" y1="396.90" x2="79.80" y2="478.40" stroke="#000" stroke-width="1.1" />
<line x1="77.80" y1="477.90" x2="79.80" y2="477.90" stroke="#000" stroke-width="1.0" />
<text x="75.20" y="480.00" font-size="5.9" text-anchor="end" font-weight="bold" fill="#000" >0</text>
<line x1="77.80" y1="467.77" x2="79.80" y2="467.77" stroke="#000" stroke-width="1.0" />
<text x="75.20" y="469.88" font-size="5.9" text-anchor="end" font-weight="bold" fill="#000" >25</text>
<line x1="77.80" y1="457.65" x2="79.80" y2="457.65" stroke="#000" stroke-width="1.0" />
<text x="75.20" y="459.75" font-size="5.9" text-anchor="end" font-weight="bold" fill="#000" >50</text>
<line x1="77.80" y1="447.52" x2="79.80" y2="447.52" stroke="#000" stroke-width="1.0" />
<text x="75.20" y="449.62" font-size="5.9" text-anchor="end" font-weight="bold" fill="#000" >75</text>
<line x1="77.80" y1="437.40" x2="79.80" y2="437.40" stroke="#000" stroke-width="1.0" />
<text x="75.20" y="439.50" font-size="5.9" text-anchor="end" font-weight="bold" fill="#000" >100</text>
<line x1="77.80" y1="427.27" x2="79.80" y2="427.27" stroke="#000" stroke-width="1.0" />
<text x="75.20" y="429.38" font-size="5.9" text-anchor="end" font-weight="bold" fill="#000" >125</text>
<line x1="77.80" y1="417.15" x2="79.80" y2="417.15" stroke="#000" stroke-width="1.0" />
<text x="75.20" y="419.25" font-size="5.9" text-anchor="end" font-weight="bold" fill="#000" >150</text>
<line x1="77.80" y1="407.02" x2="79.80" y2="407.02" stroke="#000" stroke-width="1.0" />
<text x="75.20" y="409.12" font-size="5.9" text-anchor="end" font-weight="bold" fill="#000" >175</text>
<line x1="77.80" y1="396.90" x2="79.80" y2="396.90" stroke="#000" stroke-width="1.0" />
<text x="75.20" y="399.00" font-size="5.9" text-anchor="end" font-weight="bold" fill="#000" >200</text>
<line x1="92.10" y1="413.00" x2="92.10" y2="413.60" stroke="#000" stroke-width="0.9" />
<line x1="89.60" y1="413.00" x2="94.60" y2="413.00" stroke="#000" stroke-width="0.9" />
<rect x="87.55" y="414.15" width="9.10" height="63.75" fill="#fff" stroke="#000" stroke-width="1.1" rx="0" />
<rect x="101.65" y="475.85" width="9.10" height="2.05" fill="#fff" stroke="#000" stroke-width="1.1" rx="0" />
<text x="106.20" y="474.70" font-size="8.0" text-anchor="middle" font-weight="bold" fill="#000" >**</text>
<line x1="130.10" y1="452.20" x2="130.10" y2="453.40" stroke="#000" stroke-width="0.9" />
<line x1="127.60" y1="452.20" x2="132.60" y2="452.20" stroke="#000" stroke-width="0.9" />
<rect x="125.55" y="453.95" width="9.10" height="23.95" fill="#000" stroke="#000" stroke-width="1.1" rx="0" />
<line x1="144.30" y1="473.60" x2="144.30" y2="474.00" stroke="#000" stroke-width="0.9" />
<line x1="141.80" y1="473.60" x2="146.80" y2="473.60" stroke="#000" stroke-width="0.9" />
<rect x="139.75" y="474.55" width="9.10" height="3.35" fill="#000" stroke="#000" stroke-width="1.1" rx="0" />
<text x="144.30" y="473.30" font-size="8.0" text-anchor="middle" font-weight="bold" fill="#000" >**</text>
<line x1="79.30" y1="477.90" x2="150.50" y2="477.90" stroke="#000" stroke-width="1.1" />
<line x1="90.50" y1="484.50" x2="92.50" y2="484.50" stroke="#000" stroke-width="1.0" />
<line x1="103.70" y1="484.50" x2="107.30" y2="484.50" stroke="#000" stroke-width="1.0" />
<line x1="105.50" y1="482.70" x2="105.50" y2="486.30" stroke="#000" stroke-width="1.0" />
<line x1="130.50" y1="484.50" x2="132.50" y2="484.50" stroke="#000" stroke-width="1.0" />
<line x1="143.70" y1="484.50" x2="147.30" y2="484.50" stroke="#000" stroke-width="1.0" />
<line x1="145.50" y1="482.70" x2="145.50" y2="486.30" stroke="#000" stroke-width="1.0" />
<line x1="99.10" y1="477.90" x2="99.10" y2="480.10" stroke="#000" stroke-width="0.8" />
<line x1="137.30" y1="477.90" x2="137.30" y2="480.10" stroke="#000" stroke-width="0.8" />
<text x="157.20" y="488.00" font-size="7.8" text-anchor="start" font-weight="bold" fill="#000" >SHP099</text>
<text transform="translate(56.5,436.4) rotate(-90)" font-size="7.67" font-weight="bold" text-anchor="middle">IC<tspan font-size="6.14" dy="2.91">50</tspan><tspan dy="-2.91"> Vemurafenib [µmol/L]</tspan></text>
<rect x="138.60" y="398.40" width="7.00" height="6.20" fill="#fff" stroke="#000" stroke-width="1.0" rx="0" />
<rect x="138.60" y="408.00" width="7.00" height="6.20" fill="#000" stroke="#000" stroke-width="1.0" rx="0" />
<text x="149.20" y="404.00" font-size="7.8" text-anchor="start" font-weight="bold" fill="#000" >CHP-212</text>
<text x="149.20" y="413.80" font-size="7.8" text-anchor="start" font-weight="bold" fill="#000" >SK-N-AS</text>
<line x1="243.30" y1="439.40" x2="243.30" y2="478.40" stroke="#000" stroke-width="1.1" />
<line x1="241.10" y1="477.90" x2="243.30" y2="477.90" stroke="#000" stroke-width="1.0" />
<text x="240.00" y="480.10" font-size="6.2" text-anchor="end" font-weight="bold" fill="#000" >0.000</text>
<line x1="241.10" y1="465.00" x2="243.30" y2="465.00" stroke="#000" stroke-width="1.0" />
<text x="240.00" y="467.20" font-size="6.2" text-anchor="end" font-weight="bold" fill="#000" >0.001</text>
<line x1="241.10" y1="452.40" x2="243.30" y2="452.40" stroke="#000" stroke-width="1.0" />
<text x="240.00" y="454.60" font-size="6.2" text-anchor="end" font-weight="bold" fill="#000" >0.002</text>
<line x1="241.10" y1="439.60" x2="243.30" y2="439.60" stroke="#000" stroke-width="1.0" />
<text x="240.00" y="441.80" font-size="6.2" text-anchor="end" font-weight="bold" fill="#000" >0.003</text>
<line x1="243.30" y1="397.10" x2="243.30" y2="433.20" stroke="#000" stroke-width="1.1" />
<line x1="241.10" y1="429.50" x2="243.30" y2="429.50" stroke="#000" stroke-width="1.0" />
<text x="240.00" y="431.70" font-size="6.2" text-anchor="end" font-weight="bold" fill="#000" >0.005</text>
<line x1="241.10" y1="418.50" x2="243.30" y2="418.50" stroke="#000" stroke-width="1.0" />
<text x="240.00" y="420.70" font-size="6.2" text-anchor="end" font-weight="bold" fill="#000" >0.010</text>
<line x1="241.10" y1="407.60" x2="243.30" y2="407.60" stroke="#000" stroke-width="1.0" />
<text x="240.00" y="409.80" font-size="6.2" text-anchor="end" font-weight="bold" fill="#000" >0.015</text>
<line x1="241.10" y1="397.30" x2="243.30" y2="397.30" stroke="#000" stroke-width="1.0" />
<text x="240.00" y="399.50" font-size="6.2" text-anchor="end" font-weight="bold" fill="#000" >0.020</text>
<line x1="241.90" y1="433.30" x2="244.90" y2="433.30" stroke="#000" stroke-width="1.0" />
<line x1="243.30" y1="439.50" x2="244.90" y2="439.50" stroke="#000" stroke-width="1.0" />
<line x1="255.70" y1="455.20" x2="255.70" y2="456.60" stroke="#000" stroke-width="0.9" />
<line x1="253.20" y1="455.20" x2="258.20" y2="455.20" stroke="#000" stroke-width="0.9" />
<rect x="251.15" y="457.15" width="9.10" height="20.75" fill="#fff" stroke="#000" stroke-width="1.1" rx="0" />
<rect x="265.95" y="472.65" width="9.10" height="5.25" fill="#fff" stroke="#000" stroke-width="1.1" rx="0" />
<text x="270.50" y="471.80" font-size="8.0" text-anchor="middle" font-weight="bold" fill="#000" >**</text>
<line x1="295.40" y1="408.40" x2="295.40" y2="412.00" stroke="#000" stroke-width="0.9" />
<line x1="292.90" y1="408.40" x2="297.90" y2="408.40" stroke="#000" stroke-width="0.9" />
<rect x="290.85" y="412.55" width="9.10" height="65.35" fill="#000" stroke="#000" stroke-width="1.1" rx="0" />
<line x1="310.10" y1="448.20" x2="310.10" y2="449.80" stroke="#000" stroke-width="0.9" />
<line x1="307.60" y1="448.20" x2="312.60" y2="448.20" stroke="#000" stroke-width="0.9" />
<rect x="305.55" y="450.35" width="9.10" height="27.55" fill="#000" stroke="#000" stroke-width="1.1" rx="0" />
<text x="310.10" y="447.90" font-size="8.0" text-anchor="middle" font-weight="bold" fill="#000" >**</text>
<rect x="289.00" y="433.60" width="13.50" height="5.80" fill="#fff" stroke="none" stroke-width="1" rx="0" />
<line x1="242.80" y1="477.90" x2="322.00" y2="477.90" stroke="#000" stroke-width="1.1" />
<line x1="263.20" y1="477.90" x2="263.20" y2="480.10" stroke="#000" stroke-width="0.8" />
<line x1="302.60" y1="477.90" x2="302.60" y2="480.10" stroke="#000" stroke-width="0.8" />
<line x1="255.50" y1="485.50" x2="257.50" y2="485.50" stroke="#000" stroke-width="1.0" />
<line x1="268.70" y1="485.50" x2="272.30" y2="485.50" stroke="#000" stroke-width="1.0" />
<line x1="270.50" y1="483.70" x2="270.50" y2="487.30" stroke="#000" stroke-width="1.0" />
<line x1="295.50" y1="485.50" x2="297.50" y2="485.50" stroke="#000" stroke-width="1.0" />
<line x1="308.70" y1="485.50" x2="312.30" y2="485.50" stroke="#000" stroke-width="1.0" />
<line x1="310.50" y1="483.70" x2="310.50" y2="487.30" stroke="#000" stroke-width="1.0" />
<text x="321.60" y="488.30" font-size="7.8" text-anchor="start" font-weight="bold" fill="#000" >SHP099</text>
<text transform="translate(215.6,438.6) rotate(-90)" font-size="7.86" font-weight="bold" text-anchor="middle">IC<tspan font-size="6.29" dy="2.99">50</tspan><tspan dy="-2.99"> Trametinib [µmol/L]</tspan></text>
<line x1="403.60" y1="441.80" x2="403.60" y2="478.30" stroke="#000" stroke-width="1.1" />
<line x1="401.40" y1="477.80" x2="403.60" y2="477.80" stroke="#000" stroke-width="1.0" />
<text x="400.30" y="480.00" font-size="6.2" text-anchor="end" font-weight="bold" fill="#000" >0.00</text>
<line x1="401.40" y1="461.20" x2="403.60" y2="461.20" stroke="#000" stroke-width="1.0" />
<text x="400.30" y="463.40" font-size="6.2" text-anchor="end" font-weight="bold" fill="#000" >0.25</text>
<line x1="401.40" y1="443.90" x2="403.60" y2="443.90" stroke="#000" stroke-width="1.0" />
<text x="400.30" y="446.10" font-size="6.2" text-anchor="end" font-weight="bold" fill="#000" >0.50</text>
<line x1="403.60" y1="396.00" x2="403.60" y2="437.00" stroke="#000" stroke-width="1.1" />
<line x1="401.40" y1="429.60" x2="403.60" y2="429.60" stroke="#000" stroke-width="1.0" />
<text x="400.30" y="431.80" font-size="6.2" text-anchor="end" font-weight="bold" fill="#000" >2.5</text>
<line x1="401.40" y1="418.60" x2="403.60" y2="418.60" stroke="#000" stroke-width="1.0" />
<text x="400.30" y="420.80" font-size="6.2" text-anchor="end" font-weight="bold" fill="#000" >5.0</text>
<line x1="401.40" y1="407.30" x2="403.60" y2="407.30" stroke="#000" stroke-width="1.0" />
<text x="400.30" y="409.50" font-size="6.2" text-anchor="end" font-weight="bold" fill="#000" >7.5</text>
<line x1="401.40" y1="396.20" x2="403.60" y2="396.20" stroke="#000" stroke-width="1.0" />
<text x="400.30" y="398.40" font-size="6.2" text-anchor="end" font-weight="bold" fill="#000" >10.0</text>
<line x1="402.20" y1="437.00" x2="405.20" y2="437.00" stroke="#000" stroke-width="1.0" />
<line x1="403.60" y1="442.00" x2="405.20" y2="442.00" stroke="#000" stroke-width="1.0" />
<rect x="411.75" y="448.65" width="9.10" height="29.15" fill="#fff" stroke="#000" stroke-width="1.1" rx="0" />
<line x1="431.10" y1="476.00" x2="431.10" y2="476.40" stroke="#000" stroke-width="0.9" />
<line x1="428.60" y1="476.00" x2="433.60" y2="476.00" stroke="#000" stroke-width="0.9" />
<rect x="426.55" y="476.95" width="9.10" height="0.85" fill="#fff" stroke="#000" stroke-width="1.1" rx="0" />
<text x="431.10" y="475.70" font-size="8.0" text-anchor="middle" font-weight="bold" fill="#000" >**</text>
<line x1="456.40" y1="399.20" x2="456.40" y2="404.30" stroke="#000" stroke-width="0.9" />
<line x1="453.90" y1="399.20" x2="458.90" y2="399.20" stroke="#000" stroke-width="0.9" />
<rect x="451.85" y="404.85" width="9.10" height="72.95" fill="#000" stroke="#000" stroke-width="1.1" rx="0" />
<rect x="466.85" y="432.35" width="9.10" height="45.45" fill="#000" stroke="#000" stroke-width="1.1" rx="0" />
<text x="471.40" y="431.50" font-size="8.0" text-anchor="middle" font-weight="bold" fill="#000" >**</text>
<rect x="450.00" y="437.80" width="29.00" height="5.70" fill="#fff" stroke="none" stroke-width="1" rx="0" />
<line x1="403.10" y1="477.80" x2="482.70" y2="477.80" stroke="#000" stroke-width="1.1" />
<line x1="424.00" y1="477.80" x2="424.00" y2="480.00" stroke="#000" stroke-width="0.8" />
<line x1="463.80" y1="477.80" x2="463.80" y2="480.00" stroke="#000" stroke-width="0.8" />
<line x1="415.50" y1="485.50" x2="417.50" y2="485.50" stroke="#000" stroke-width="1.0" />
<line x1="429.70" y1="485.50" x2="433.30" y2="485.50" stroke="#000" stroke-width="1.0" />
<line x1="431.50" y1="483.70" x2="431.50" y2="487.30" stroke="#000" stroke-width="1.0" />
<line x1="456.50" y1="485.50" x2="458.50" y2="485.50" stroke="#000" stroke-width="1.0" />
<line x1="469.70" y1="485.50" x2="473.30" y2="485.50" stroke="#000" stroke-width="1.0" />
<line x1="471.50" y1="483.70" x2="471.50" y2="487.30" stroke="#000" stroke-width="1.0" />
<text x="484.00" y="488.20" font-size="7.8" text-anchor="start" font-weight="bold" fill="#000" >SHP099</text>
<text transform="translate(379.8,437.1) rotate(-90)" font-size="7.48" font-weight="bold" text-anchor="middle">IC<tspan font-size="5.98" dy="2.84">50</tspan><tspan dy="-2.84"> Ulixertinib [µmol/L]</tspan></text>
</svg>
</body></html>
